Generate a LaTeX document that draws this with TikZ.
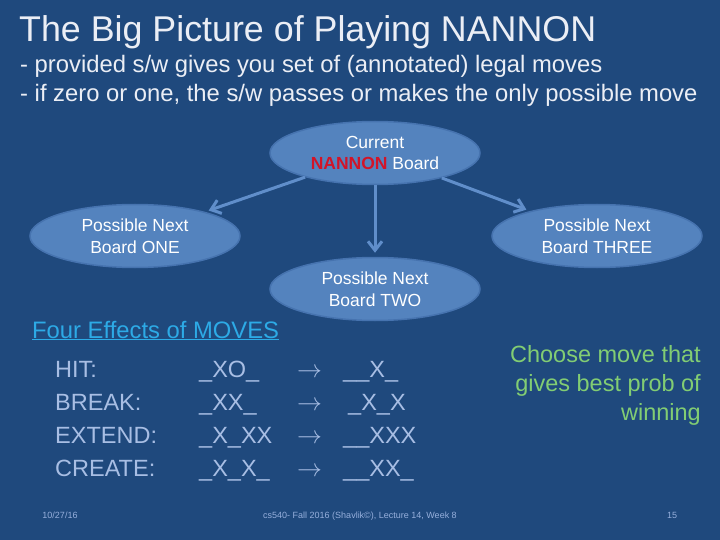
\documentclass[tikz,border=0pt]{standalone}
\usepackage{fontspec}
\setmainfont{Liberation Sans}
\usetikzlibrary{shapes.geometric,arrows.meta}
\definecolor{bg}{RGB}{31,73,125}
\definecolor{ellfill}{RGB}{84,131,190}
\definecolor{elldraw}{RGB}{70,115,175}
\definecolor{arrowc}{RGB}{96,142,202}
\definecolor{titlec}{RGB}{235,238,245}
\definecolor{nannon}{RGB}{210,20,40}
\definecolor{linkc}{RGB}{45,170,230}
\definecolor{rowc}{RGB}{168,190,228}
\definecolor{greenc}{RGB}{130,205,115}
\definecolor{footc}{RGB}{150,175,220}
\tikzset{
  board/.style={ellipse, fill=ellfill, draw=elldraw, line width=1.5pt, minimum width=210pt, minimum height=63pt, inner sep=0pt, text=white, font=\fontsize{17.5}{21.5}\selectfont, align=center},
  conn/.style={draw=arrowc, line width=3pt, -{Straight Barb[length=9pt,width=14pt,line width=3pt]}, shorten >=4pt},
  rowtext/.style={anchor=base west, text=rowc, font=\fontsize{23.5}{28}\selectfont, inner sep=0pt},
  foot/.style={text=footc, font=\fontsize{9}{10}\selectfont, inner sep=0pt, anchor=base}
}
\begin{document}
\begin{tikzpicture}[x=1pt,y=-1pt]
\fill[bg] (0,0) rectangle (720,540);
\useasboundingbox (0,0) rectangle (720,540);
% title
\node[anchor=base west, inner sep=0pt, text=titlec, font=\fontsize{35.8}{40}\selectfont] (title) at (19,42) {The Big Picture of Playing NANNON};
\node[anchor=base west, inner sep=0pt, text=titlec, font=\fontsize{23.8}{28}\selectfont] (sub1) at (20,73) {- provided s/w gives you set of (annotated) legal moves};
\node[anchor=base west, inner sep=0pt, text=titlec, font=\fontsize{23.8}{28}\selectfont] (sub2) at (20,102) {- if zero or one, the s/w passes or makes the only possible move};
% boards
\node[board] (cur) at (375,153) {Current\\{\color{nannon}\bfseries NANNON} Board};
\node[board] (one) at (135,236) {Possible Next\\Board ONE};
\node[board] (three) at (597,236) {Possible Next\\Board THREE};
\node[board] (two) at (375,289) {Possible Next\\Board TWO};
\draw[conn] (cur) -- (one);
\draw[conn] (cur) -- (three);
\draw[conn] (cur) -- (two);
% effects
\node[anchor=base west, inner sep=0pt, text=linkc, font=\fontsize{23.8}{28}\selectfont] (eff) at (32,338) {\underline{Four Effects of MOVES}};
\node[rowtext] (r1a) at (55,377) {HIT:};
\node[rowtext] (r1b) at (199,377) {\_XO\_};
\node[rowtext] (r1c) at (297,377) {$\rightarrow$};
\node[rowtext] (r1d) at (343,377) {\_\_X\_};
\node[rowtext] (r2a) at (55,410) {BREAK:};
\node[rowtext] (r2b) at (199,410) {\_XX\_};
\node[rowtext] (r2c) at (297,410) {$\rightarrow$};
\node[rowtext] (r2d) at (348,410) {\_X\_X};
\node[rowtext] (r3a) at (55,443) {EXTEND:};
\node[rowtext] (r3b) at (199,443) {\_X\_XX};
\node[rowtext] (r3c) at (297,443) {$\rightarrow$};
\node[rowtext] (r3d) at (343,443) {\_\_XXX};
\node[rowtext] (r4a) at (55,476) {CREATE:};
\node[rowtext] (r4b) at (199,476) {\_X\_X\_};
\node[rowtext] (r4c) at (297,476) {$\rightarrow$};
\node[rowtext] (r4d) at (343,476) {\_\_XX\_};
% choose
\node[anchor=north east, inner sep=0pt, text=greenc, align=right, font=\fontsize{23.5}{29}\selectfont] (choose) at (701,345) {Choose move that\\gives best prob of\\winning};
% footer
\node[foot] (date) at (60,518) {10/27/16};
\node[foot] (course) at (360,518) {cs540- Fall 2016 (Shavlik\textcopyright), Lecture 14, Week 8};
\node[foot] (page) at (672,518) {15};
\end{tikzpicture}
\end{document}
